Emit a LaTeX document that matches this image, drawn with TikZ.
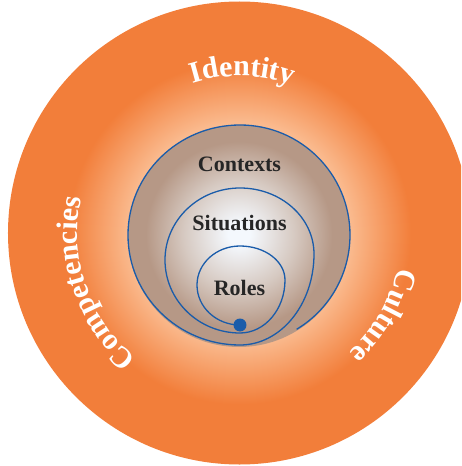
\documentclass[tikz,border=0pt]{standalone}
\usepackage{fontspec}
\setmainfont{Liberation Serif}
\usetikzlibrary{decorations.text}

\definecolor{ringorange}{RGB}{242,126,58}
\definecolor{ringpeach}{RGB}{250,186,142}
\definecolor{discedge}{RGB}{182,152,134}
\definecolor{discmid}{RGB}{214,201,193}
\definecolor{disccore}{RGB}{244,248,253}
\definecolor{spiralblue}{RGB}{26,92,170}

% the path's circle sits at 25bp of the shading
\pgfdeclareradialshading{ringshade}{\pgfpoint{0bp}{0bp}}{color(0bp)=(ringpeach); color(12bp)=(ringpeach); color(18.5bp)=(ringorange); color(50bp)=(ringorange)}
\pgfdeclareradialshading{discshade}{\pgfpoint{0bp}{0.5bp}}{color(0bp)=(disccore); color(2.5bp)=(disccore); color(12.5bp)=(discmid); color(21bp)=(discedge); color(50bp)=(discedge)}

\begin{document}
\begin{tikzpicture}[x=1pt, y=1pt,
    ring/.style={shading=ringshade},
    disc/.style={shading=discshade},
    spiral/.style={spiralblue, line width=1.3pt},
    inner label/.style={font=\fontsize{22}{22}\selectfont\bfseries, text=black!85, inner sep=0pt},
    outer label/.style={decorate, decoration={text along path, text align=center,
        text={|\color{white}\fontsize{30}{30}\selectfont\bfseries|#1}}}
]
\useasboundingbox (-239.5,-233) rectangle (221.5,233);
\clip (-239.5,-233) rectangle (221.5,233);

% Outer ring
\shade[ring] (0,0) circle (231.5);

% Contexts disc
\shade[disc] (-0.5,-3) circle (111);

% Spiral from the dot outwards, one loop per line
\coordinate (start) at (0.5,-92);
\draw[spiral] (start)
    arc[start angle=270, end angle=180, x radius=43, y radius=40]
    arc[start angle=180, end angle=90, x radius=43, y radius=39]
    arc[start angle=90, end angle=0, x radius=45, y radius=34]
    arc[start angle=0, end angle=-90, x radius=45, y radius=53]
    arc[start angle=270, end angle=180, x radius=75, y radius=73]
    arc[start angle=180, end angle=90, x radius=75, y radius=72]
    arc[start angle=90, end angle=0, x radius=74, y radius=66]
    arc[start angle=0, end angle=-90, x radius=74, y radius=91]
    arc[start angle=270, end angle=180, x radius=112, y radius=110]
    arc[start angle=180, end angle=90, x radius=112, y radius=110]
    arc[start angle=90, end angle=0, x radius=110, y radius=110]
    arc[start angle=0, end angle=-59, radius=110] coordinate (stop);
\fill[spiralblue] (start) circle (6.5);

% Inner labels
\node[inner label] (contexts) at (0,69) {Contexts};
\node[inner label] (situations) at (0,10) {Situations};
\node[inner label] (roles) at (0,-55) {Roles};

% Outer labels
\path[outer label=Identity] (125:157) arc[start angle=125, end angle=53, radius=157];
\path[outer label=Competencies] (245:162) arc[start angle=245, end angle=153, radius=162];
\path[outer label=Culture] (16:162) arc[start angle=16, end angle=-76, radius=162];

\end{tikzpicture}
\end{document}
